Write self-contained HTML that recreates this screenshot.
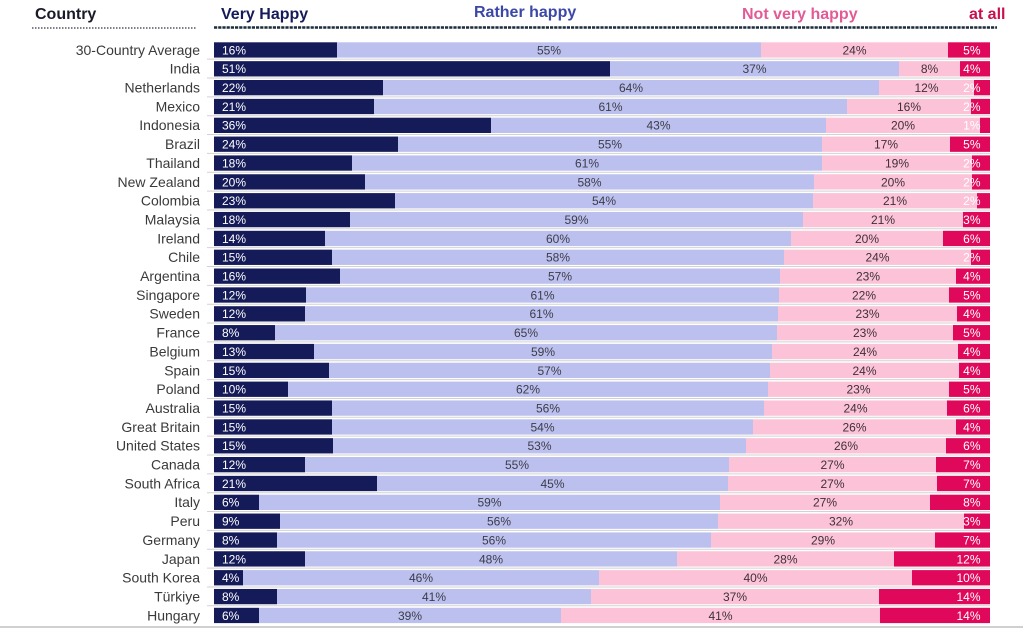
<!DOCTYPE html>
<html><head><meta charset="utf-8"><style>
html,body{margin:0;padding:0;background:#fff;}
svg{display:block;}
text{font-family:"Liberation Sans",sans-serif;}
.c{font-size:14px;fill:#3a3a3a;text-anchor:end;}
.v{font-size:12px;}
.w{fill:#fff;}
.m{fill:#3c3c48;text-anchor:middle;}
.k{fill:#3e3036;text-anchor:middle;}
.e{fill:#fff;text-anchor:end;}
.n{fill:#151b58;}
.l{fill:#bcc0ee;}
.p{fill:#fcc3d8;}
.r{fill:#e0085a;}
.s{stroke:#d2d2d2;stroke-width:1;}
</style></head><body>
<svg width="1023" height="628" viewBox="0 0 1023 628" xmlns="http://www.w3.org/2000/svg">
<text x="35" y="19" style="font-size:16px;font-weight:bold;fill:#1a1a2a">Country</text>
<text x="221" y="19" style="font-size:16px;font-weight:bold;fill:#151b58">Very Happy</text>
<text x="474" y="17" style="font-size:16px;font-weight:bold;fill:#3b48a8">Rather happy</text>
<text x="742" y="19" style="font-size:16px;font-weight:bold;fill:#e35b96">Not very happy</text>
<text x="969" y="19" style="font-size:16px;font-weight:bold;fill:#c8104f">at all</text>
<line x1="32" y1="28" x2="196" y2="28" stroke="#556" stroke-width="1.5" stroke-dasharray="1.5,1.5"/>
<line x1="214" y1="27.5" x2="997" y2="27.5" stroke="#1c2d3c" stroke-width="2.6" stroke-dasharray="3.2,1"/>
<g id="rows">
<g transform="translate(0,42.3)"><text class="c" x="200" y="12.5">30-Country Average</text><rect class="n" x="214" y="0" width="123" height="15.3"/><rect class="l" x="337" y="0" width="424" height="15.3"/><rect class="p" x="761" y="0" width="187" height="15.3"/><rect class="r" x="948" y="0" width="42" height="15.3"/><text class="v w" x="222" y="12">16%</text><text class="v m" x="549" y="12">55%</text><text class="v k" x="854.5" y="12">24%</text><text class="v e" x="980.5" y="12">5%</text></g>
<g transform="translate(0,61.15)"><line class="s" x1="207" y1="-2" x2="990" y2="-2"/><text class="c" x="200" y="12.5">India</text><rect class="n" x="214" y="0" width="396" height="15.3"/><rect class="l" x="610" y="0" width="289" height="15.3"/><rect class="p" x="899" y="0" width="61" height="15.3"/><rect class="r" x="960" y="0" width="30" height="15.3"/><text class="v w" x="222" y="12">51%</text><text class="v m" x="754.5" y="12">37%</text><text class="v k" x="929.5" y="12">8%</text><text class="v e" x="980.5" y="12">4%</text></g>
<g transform="translate(0,80)"><line class="s" x1="207" y1="-2" x2="990" y2="-2"/><text class="c" x="200" y="12.5">Netherlands</text><rect class="n" x="214" y="0" width="169" height="15.3"/><rect class="l" x="383" y="0" width="496" height="15.3"/><rect class="p" x="879" y="0" width="95" height="15.3"/><rect class="r" x="974" y="0" width="16" height="15.3"/><text class="v w" x="222" y="12">22%</text><text class="v m" x="631" y="12">64%</text><text class="v k" x="926.5" y="12">12%</text><text class="v e" x="980.5" y="12">2%</text></g>
<g transform="translate(0,98.85)"><line class="s" x1="207" y1="-2" x2="990" y2="-2"/><text class="c" x="200" y="12.5">Mexico</text><rect class="n" x="214" y="0" width="160" height="15.3"/><rect class="l" x="374" y="0" width="473" height="15.3"/><rect class="p" x="847" y="0" width="124" height="15.3"/><rect class="r" x="971" y="0" width="19" height="15.3"/><text class="v w" x="222" y="12">21%</text><text class="v m" x="610.5" y="12">61%</text><text class="v k" x="909" y="12">16%</text><text class="v e" x="980.5" y="12">2%</text></g>
<g transform="translate(0,117.7)"><line class="s" x1="207" y1="-2" x2="990" y2="-2"/><text class="c" x="200" y="12.5">Indonesia</text><rect class="n" x="214" y="0" width="277" height="15.3"/><rect class="l" x="491" y="0" width="335" height="15.3"/><rect class="p" x="826" y="0" width="154" height="15.3"/><rect class="r" x="980" y="0" width="10" height="15.3"/><text class="v w" x="222" y="12">36%</text><text class="v m" x="658.5" y="12">43%</text><text class="v k" x="903" y="12">20%</text><text class="v e" x="980.5" y="12">1%</text></g>
<g transform="translate(0,136.55)"><line class="s" x1="207" y1="-2" x2="990" y2="-2"/><text class="c" x="200" y="12.5">Brazil</text><rect class="n" x="214" y="0" width="184" height="15.3"/><rect class="l" x="398" y="0" width="424" height="15.3"/><rect class="p" x="822" y="0" width="128" height="15.3"/><rect class="r" x="950" y="0" width="40" height="15.3"/><text class="v w" x="222" y="12">24%</text><text class="v m" x="610" y="12">55%</text><text class="v k" x="886" y="12">17%</text><text class="v e" x="980.5" y="12">5%</text></g>
<g transform="translate(0,155.4)"><line class="s" x1="207" y1="-2" x2="990" y2="-2"/><text class="c" x="200" y="12.5">Thailand</text><rect class="n" x="214" y="0" width="138" height="15.3"/><rect class="l" x="352" y="0" width="470" height="15.3"/><rect class="p" x="822" y="0" width="150" height="15.3"/><rect class="r" x="972" y="0" width="18" height="15.3"/><text class="v w" x="222" y="12">18%</text><text class="v m" x="587" y="12">61%</text><text class="v k" x="897" y="12">19%</text><text class="v e" x="980.5" y="12">2%</text></g>
<g transform="translate(0,174.25)"><line class="s" x1="207" y1="-2" x2="990" y2="-2"/><text class="c" x="200" y="12.5">New Zealand</text><rect class="n" x="214" y="0" width="151" height="15.3"/><rect class="l" x="365" y="0" width="449" height="15.3"/><rect class="p" x="814" y="0" width="158" height="15.3"/><rect class="r" x="972" y="0" width="18" height="15.3"/><text class="v w" x="222" y="12">20%</text><text class="v m" x="589.5" y="12">58%</text><text class="v k" x="893" y="12">20%</text><text class="v e" x="980.5" y="12">2%</text></g>
<g transform="translate(0,193.1)"><line class="s" x1="207" y1="-2" x2="990" y2="-2"/><text class="c" x="200" y="12.5">Colombia</text><rect class="n" x="214" y="0" width="181" height="15.3"/><rect class="l" x="395" y="0" width="418" height="15.3"/><rect class="p" x="813" y="0" width="164" height="15.3"/><rect class="r" x="977" y="0" width="13" height="15.3"/><text class="v w" x="222" y="12">23%</text><text class="v m" x="604" y="12">54%</text><text class="v k" x="895" y="12">21%</text><text class="v e" x="980.5" y="12">2%</text></g>
<g transform="translate(0,211.95)"><line class="s" x1="207" y1="-2" x2="990" y2="-2"/><text class="c" x="200" y="12.5">Malaysia</text><rect class="n" x="214" y="0" width="136" height="15.3"/><rect class="l" x="350" y="0" width="453" height="15.3"/><rect class="p" x="803" y="0" width="160" height="15.3"/><rect class="r" x="963" y="0" width="27" height="15.3"/><text class="v w" x="222" y="12">18%</text><text class="v m" x="576.5" y="12">59%</text><text class="v k" x="883" y="12">21%</text><text class="v e" x="980.5" y="12">3%</text></g>
<g transform="translate(0,230.8)"><line class="s" x1="207" y1="-2" x2="990" y2="-2"/><text class="c" x="200" y="12.5">Ireland</text><rect class="n" x="214" y="0" width="111" height="15.3"/><rect class="l" x="325" y="0" width="466" height="15.3"/><rect class="p" x="791" y="0" width="152" height="15.3"/><rect class="r" x="943" y="0" width="47" height="15.3"/><text class="v w" x="222" y="12">14%</text><text class="v m" x="558" y="12">60%</text><text class="v k" x="867" y="12">20%</text><text class="v e" x="980.5" y="12">6%</text></g>
<g transform="translate(0,249.65)"><line class="s" x1="207" y1="-2" x2="990" y2="-2"/><text class="c" x="200" y="12.5">Chile</text><rect class="n" x="214" y="0" width="118" height="15.3"/><rect class="l" x="332" y="0" width="452" height="15.3"/><rect class="p" x="784" y="0" width="187" height="15.3"/><rect class="r" x="971" y="0" width="19" height="15.3"/><text class="v w" x="222" y="12">15%</text><text class="v m" x="558" y="12">58%</text><text class="v k" x="877.5" y="12">24%</text><text class="v e" x="980.5" y="12">2%</text></g>
<g transform="translate(0,268.5)"><line class="s" x1="207" y1="-2" x2="990" y2="-2"/><text class="c" x="200" y="12.5">Argentina</text><rect class="n" x="214" y="0" width="126" height="15.3"/><rect class="l" x="340" y="0" width="440" height="15.3"/><rect class="p" x="780" y="0" width="176" height="15.3"/><rect class="r" x="956" y="0" width="34" height="15.3"/><text class="v w" x="222" y="12">16%</text><text class="v m" x="560" y="12">57%</text><text class="v k" x="868" y="12">23%</text><text class="v e" x="980.5" y="12">4%</text></g>
<g transform="translate(0,287.35)"><line class="s" x1="207" y1="-2" x2="990" y2="-2"/><text class="c" x="200" y="12.5">Singapore</text><rect class="n" x="214" y="0" width="92" height="15.3"/><rect class="l" x="306" y="0" width="473" height="15.3"/><rect class="p" x="779" y="0" width="170" height="15.3"/><rect class="r" x="949" y="0" width="41" height="15.3"/><text class="v w" x="222" y="12">12%</text><text class="v m" x="542.5" y="12">61%</text><text class="v k" x="864" y="12">22%</text><text class="v e" x="980.5" y="12">5%</text></g>
<g transform="translate(0,306.2)"><line class="s" x1="207" y1="-2" x2="990" y2="-2"/><text class="c" x="200" y="12.5">Sweden</text><rect class="n" x="214" y="0" width="91" height="15.3"/><rect class="l" x="305" y="0" width="473" height="15.3"/><rect class="p" x="778" y="0" width="179" height="15.3"/><rect class="r" x="957" y="0" width="33" height="15.3"/><text class="v w" x="222" y="12">12%</text><text class="v m" x="541.5" y="12">61%</text><text class="v k" x="867.5" y="12">23%</text><text class="v e" x="980.5" y="12">4%</text></g>
<g transform="translate(0,325.05)"><line class="s" x1="207" y1="-2" x2="990" y2="-2"/><text class="c" x="200" y="12.5">France</text><rect class="n" x="214" y="0" width="61" height="15.3"/><rect class="l" x="275" y="0" width="502" height="15.3"/><rect class="p" x="777" y="0" width="176" height="15.3"/><rect class="r" x="953" y="0" width="37" height="15.3"/><text class="v w" x="222" y="12">8%</text><text class="v m" x="526" y="12">65%</text><text class="v k" x="865" y="12">23%</text><text class="v e" x="980.5" y="12">5%</text></g>
<g transform="translate(0,343.9)"><line class="s" x1="207" y1="-2" x2="990" y2="-2"/><text class="c" x="200" y="12.5">Belgium</text><rect class="n" x="214" y="0" width="100" height="15.3"/><rect class="l" x="314" y="0" width="458" height="15.3"/><rect class="p" x="772" y="0" width="186" height="15.3"/><rect class="r" x="958" y="0" width="32" height="15.3"/><text class="v w" x="222" y="12">13%</text><text class="v m" x="543" y="12">59%</text><text class="v k" x="865" y="12">24%</text><text class="v e" x="980.5" y="12">4%</text></g>
<g transform="translate(0,362.75)"><line class="s" x1="207" y1="-2" x2="990" y2="-2"/><text class="c" x="200" y="12.5">Spain</text><rect class="n" x="214" y="0" width="115" height="15.3"/><rect class="l" x="329" y="0" width="441" height="15.3"/><rect class="p" x="770" y="0" width="189" height="15.3"/><rect class="r" x="959" y="0" width="31" height="15.3"/><text class="v w" x="222" y="12">15%</text><text class="v m" x="549.5" y="12">57%</text><text class="v k" x="864.5" y="12">24%</text><text class="v e" x="980.5" y="12">4%</text></g>
<g transform="translate(0,381.6)"><line class="s" x1="207" y1="-2" x2="990" y2="-2"/><text class="c" x="200" y="12.5">Poland</text><rect class="n" x="214" y="0" width="74" height="15.3"/><rect class="l" x="288" y="0" width="480" height="15.3"/><rect class="p" x="768" y="0" width="181" height="15.3"/><rect class="r" x="949" y="0" width="41" height="15.3"/><text class="v w" x="222" y="12">10%</text><text class="v m" x="528" y="12">62%</text><text class="v k" x="858.5" y="12">23%</text><text class="v e" x="980.5" y="12">5%</text></g>
<g transform="translate(0,400.45)"><line class="s" x1="207" y1="-2" x2="990" y2="-2"/><text class="c" x="200" y="12.5">Australia</text><rect class="n" x="214" y="0" width="118" height="15.3"/><rect class="l" x="332" y="0" width="432" height="15.3"/><rect class="p" x="764" y="0" width="183" height="15.3"/><rect class="r" x="947" y="0" width="43" height="15.3"/><text class="v w" x="222" y="12">15%</text><text class="v m" x="548" y="12">56%</text><text class="v k" x="855.5" y="12">24%</text><text class="v e" x="980.5" y="12">6%</text></g>
<g transform="translate(0,419.3)"><line class="s" x1="207" y1="-2" x2="990" y2="-2"/><text class="c" x="200" y="12.5">Great Britain</text><rect class="n" x="214" y="0" width="118" height="15.3"/><rect class="l" x="332" y="0" width="421" height="15.3"/><rect class="p" x="753" y="0" width="203" height="15.3"/><rect class="r" x="956" y="0" width="34" height="15.3"/><text class="v w" x="222" y="12">15%</text><text class="v m" x="542.5" y="12">54%</text><text class="v k" x="854.5" y="12">26%</text><text class="v e" x="980.5" y="12">4%</text></g>
<g transform="translate(0,438.15)"><line class="s" x1="207" y1="-2" x2="990" y2="-2"/><text class="c" x="200" y="12.5">United States</text><rect class="n" x="214" y="0" width="119" height="15.3"/><rect class="l" x="333" y="0" width="413" height="15.3"/><rect class="p" x="746" y="0" width="200" height="15.3"/><rect class="r" x="946" y="0" width="44" height="15.3"/><text class="v w" x="222" y="12">15%</text><text class="v m" x="539.5" y="12">53%</text><text class="v k" x="846" y="12">26%</text><text class="v e" x="980.5" y="12">6%</text></g>
<g transform="translate(0,457)"><line class="s" x1="207" y1="-2" x2="990" y2="-2"/><text class="c" x="200" y="12.5">Canada</text><rect class="n" x="214" y="0" width="91" height="15.3"/><rect class="l" x="305" y="0" width="424" height="15.3"/><rect class="p" x="729" y="0" width="207" height="15.3"/><rect class="r" x="936" y="0" width="54" height="15.3"/><text class="v w" x="222" y="12">12%</text><text class="v m" x="517" y="12">55%</text><text class="v k" x="832.5" y="12">27%</text><text class="v e" x="980.5" y="12">7%</text></g>
<g transform="translate(0,475.85)"><line class="s" x1="207" y1="-2" x2="990" y2="-2"/><text class="c" x="200" y="12.5">South Africa</text><rect class="n" x="214" y="0" width="163" height="15.3"/><rect class="l" x="377" y="0" width="351" height="15.3"/><rect class="p" x="728" y="0" width="209" height="15.3"/><rect class="r" x="937" y="0" width="53" height="15.3"/><text class="v w" x="222" y="12">21%</text><text class="v m" x="552.5" y="12">45%</text><text class="v k" x="832.5" y="12">27%</text><text class="v e" x="980.5" y="12">7%</text></g>
<g transform="translate(0,494.7)"><line class="s" x1="207" y1="-2" x2="990" y2="-2"/><text class="c" x="200" y="12.5">Italy</text><rect class="n" x="214" y="0" width="45" height="15.3"/><rect class="l" x="259" y="0" width="461" height="15.3"/><rect class="p" x="720" y="0" width="210" height="15.3"/><rect class="r" x="930" y="0" width="60" height="15.3"/><text class="v w" x="222" y="12">6%</text><text class="v m" x="489.5" y="12">59%</text><text class="v k" x="825" y="12">27%</text><text class="v e" x="980.5" y="12">8%</text></g>
<g transform="translate(0,513.55)"><line class="s" x1="207" y1="-2" x2="990" y2="-2"/><text class="c" x="200" y="12.5">Peru</text><rect class="n" x="214" y="0" width="66" height="15.3"/><rect class="l" x="280" y="0" width="438" height="15.3"/><rect class="p" x="718" y="0" width="246" height="15.3"/><rect class="r" x="964" y="0" width="26" height="15.3"/><text class="v w" x="222" y="12">9%</text><text class="v m" x="499" y="12">56%</text><text class="v k" x="841" y="12">32%</text><text class="v e" x="980.5" y="12">3%</text></g>
<g transform="translate(0,532.4)"><line class="s" x1="207" y1="-2" x2="990" y2="-2"/><text class="c" x="200" y="12.5">Germany</text><rect class="n" x="214" y="0" width="63" height="15.3"/><rect class="l" x="277" y="0" width="434" height="15.3"/><rect class="p" x="711" y="0" width="224" height="15.3"/><rect class="r" x="935" y="0" width="55" height="15.3"/><text class="v w" x="222" y="12">8%</text><text class="v m" x="494" y="12">56%</text><text class="v k" x="823" y="12">29%</text><text class="v e" x="980.5" y="12">7%</text></g>
<g transform="translate(0,551.25)"><line class="s" x1="207" y1="-2" x2="990" y2="-2"/><text class="c" x="200" y="12.5">Japan</text><rect class="n" x="214" y="0" width="91" height="15.3"/><rect class="l" x="305" y="0" width="372" height="15.3"/><rect class="p" x="677" y="0" width="217" height="15.3"/><rect class="r" x="894" y="0" width="96" height="15.3"/><text class="v w" x="222" y="12">12%</text><text class="v m" x="491" y="12">48%</text><text class="v k" x="785.5" y="12">28%</text><text class="v e" x="980.5" y="12">12%</text></g>
<g transform="translate(0,570.1)"><line class="s" x1="207" y1="-2" x2="990" y2="-2"/><text class="c" x="200" y="12.5">South Korea</text><rect class="n" x="214" y="0" width="29" height="15.3"/><rect class="l" x="243" y="0" width="356" height="15.3"/><rect class="p" x="599" y="0" width="313" height="15.3"/><rect class="r" x="912" y="0" width="78" height="15.3"/><text class="v w" x="222" y="12">4%</text><text class="v m" x="421" y="12">46%</text><text class="v k" x="755.5" y="12">40%</text><text class="v e" x="980.5" y="12">10%</text></g>
<g transform="translate(0,588.95)"><line class="s" x1="207" y1="-2" x2="990" y2="-2"/><text class="c" x="200" y="12.5">Türkiye</text><rect class="n" x="214" y="0" width="63" height="15.3"/><rect class="l" x="277" y="0" width="314" height="15.3"/><rect class="p" x="591" y="0" width="288" height="15.3"/><rect class="r" x="879" y="0" width="111" height="15.3"/><text class="v w" x="222" y="12">8%</text><text class="v m" x="434" y="12">41%</text><text class="v k" x="735" y="12">37%</text><text class="v e" x="980.5" y="12">14%</text></g>
<g transform="translate(0,607.8)"><line class="s" x1="207" y1="-2" x2="990" y2="-2"/><text class="c" x="200" y="12.5">Hungary</text><rect class="n" x="214" y="0" width="45" height="15.3"/><rect class="l" x="259" y="0" width="302" height="15.3"/><rect class="p" x="561" y="0" width="319" height="15.3"/><rect class="r" x="880" y="0" width="110" height="15.3"/><text class="v w" x="222" y="12">6%</text><text class="v m" x="410" y="12">39%</text><text class="v k" x="720.5" y="12">41%</text><text class="v e" x="980.5" y="12">14%</text></g>
</g>
<rect x="0" y="626" width="1023" height="2" fill="#d0d0d0"/>
</svg>
</body></html>
